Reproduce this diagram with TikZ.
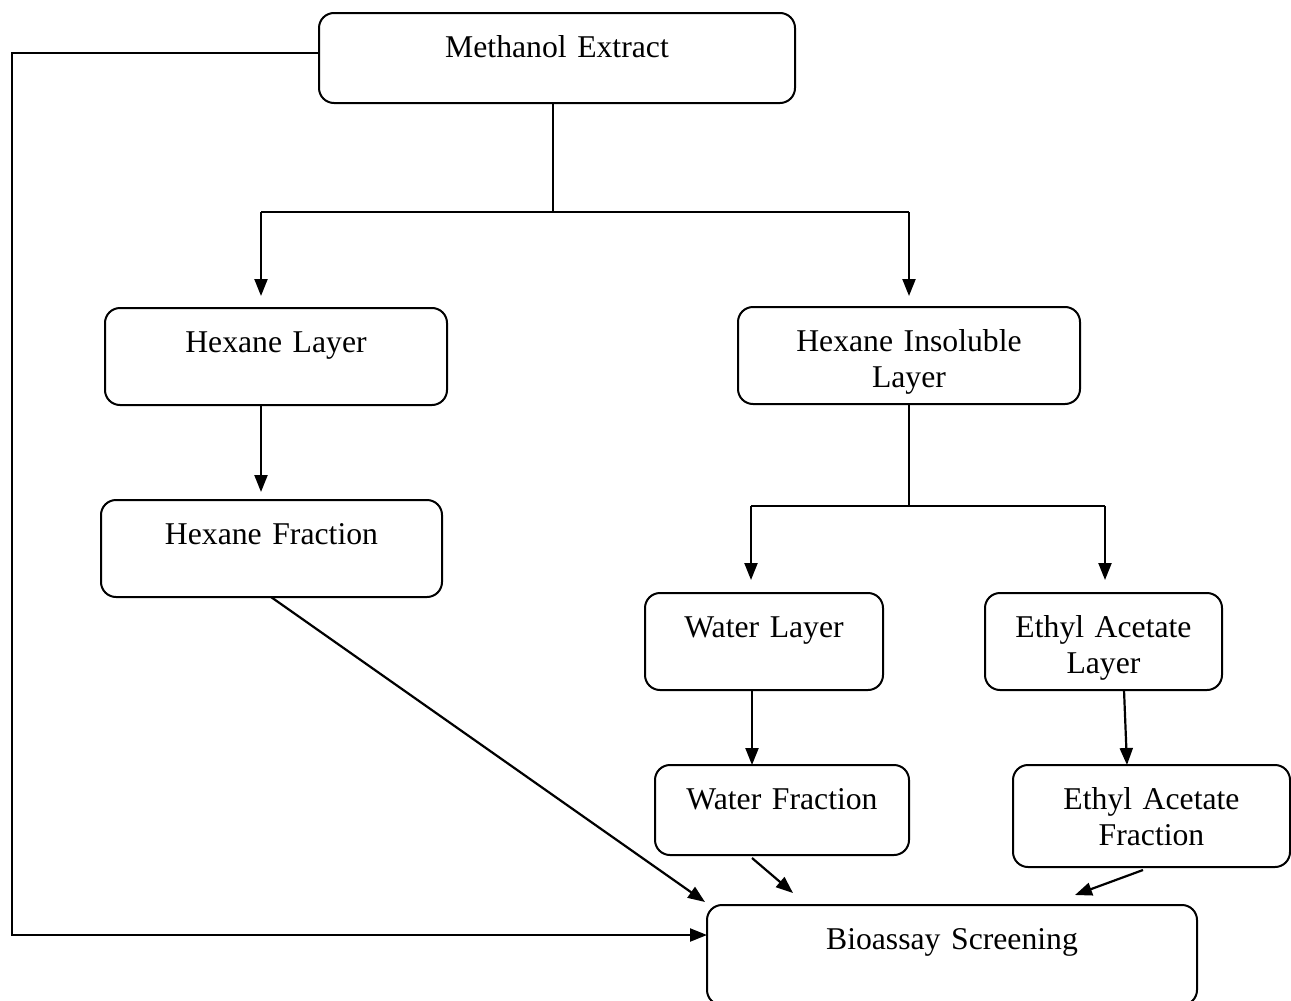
\documentclass[tikz,border=0pt]{standalone}
\usepackage{fontspec}
\setmainfont{Liberation Serif}
\usetikzlibrary{arrows.meta}
\tikzset{
  box/.style={draw, line width=2pt, rounded corners=15pt, inner sep=0pt, outer sep=0pt},
  txt/.style={inner sep=0pt, outer sep=0pt, anchor=base, align=center, text width=330pt,
              font=\fontsize{31.7}{36}\selectfont},
  conn/.style={line width=2.2pt},
  arr/.style={conn, -{Triangle[length=17pt,width=13pt]}}
}
\begin{document}
\begin{tikzpicture}[x=1pt,y=-1pt]
\useasboundingbox (0,0) rectangle (1291,1001);
\clip (0,0) rectangle (1291,1001);
% boxes
\node[box, minimum width=476pt, minimum height=90pt] (me) at (557,58) {};
\node[box, minimum width=342pt, minimum height=97pt] (hl) at (276,356.5) {};
\node[box, minimum width=342pt, minimum height=97pt] (hi) at (909,355.5) {};
\node[box, minimum width=341pt, minimum height=97pt] (hf) at (271.5,548.5) {};
\node[box, minimum width=238pt, minimum height=97pt] (wl) at (764,641.5) {};
\node[box, minimum width=237pt, minimum height=97pt] (ea) at (1103.5,641.5) {};
\node[box, minimum width=254pt, minimum height=90pt] (wf) at (782,810) {};
\node[box, minimum width=277pt, minimum height=102pt] (ef) at (1151.5,816) {};
\node[box, minimum width=490pt, minimum height=100pt] (bs) at (952,955) {};
% texts
\node[txt] (meT) at (557,57) {Methanol Extract};
\node[txt] (hlT) at (276,352) {Hexane Layer};
\node[txt] (hiT) at (909,351) {Hexane Insoluble\\Layer};
\node[txt] (hfT) at (271.5,544) {Hexane Fraction};
\node[txt] (wlT) at (764,637) {Water Layer};
\node[txt] (eaT) at (1103.5,637) {Ethyl Acetate\\Layer};
\node[txt] (wfT) at (782,809) {Water Fraction};
\node[txt] (efT) at (1151.5,809) {Ethyl Acetate\\Fraction};
\node[txt] (bsT) at (952,949) {Bioassay Screening};
% coordinates
\coordinate (j1) at (553,212);
\coordinate (jL) at (261,212);
\coordinate (jR) at (909,212);
\coordinate (aHL) at (261,296);
\coordinate (aHI) at (909,296);
\coordinate (aHF) at (261,492);
\coordinate (j2) at (909,506);
\coordinate (j2L) at (751,506);
\coordinate (j2R) at (1105,506);
\coordinate (aWL) at (751,580);
\coordinate (aEA) at (1105,580);
\coordinate (tHF) at (705,902);
\coordinate (sWF) at (752,858);
\coordinate (tWF) at (793,893);
\coordinate (sEF) at (1143,870);
\coordinate (tEF) at (1075,895);
\coordinate (c2) at (12,935);
% connectors
\draw[conn] (me.south -| j1) -- (j1);
\draw[conn] (jL) -- (jR);
\draw[arr] (jL) -- (aHL);
\draw[arr] (jR) -- (aHI);
\draw[arr] (hl.south -| aHF) -- (aHF);
\draw[conn] (hi.south -| j2) -- (j2);
\draw[conn] (j2L) -- (j2R);
\draw[arr] (j2L) -- (aWL);
\draw[arr] (j2R) -- (aEA);
\draw[arr] ([xshift=-12pt]wl.south) -- ([xshift=-30pt]wf.north);
\draw[arr] ([xshift=20.5pt]ea.south) -- ([xshift=-24.5pt]ef.north);
\draw[arr] ([xshift=-0.5pt]hf.south) -- (tHF);
\draw[arr] (sWF) -- (tWF);
\draw[arr] (sEF) -- (tEF);
\draw[arr] ([yshift=5pt]me.west) -| (c2) -- ([yshift=20pt]bs.west);
\end{tikzpicture}
\end{document}
